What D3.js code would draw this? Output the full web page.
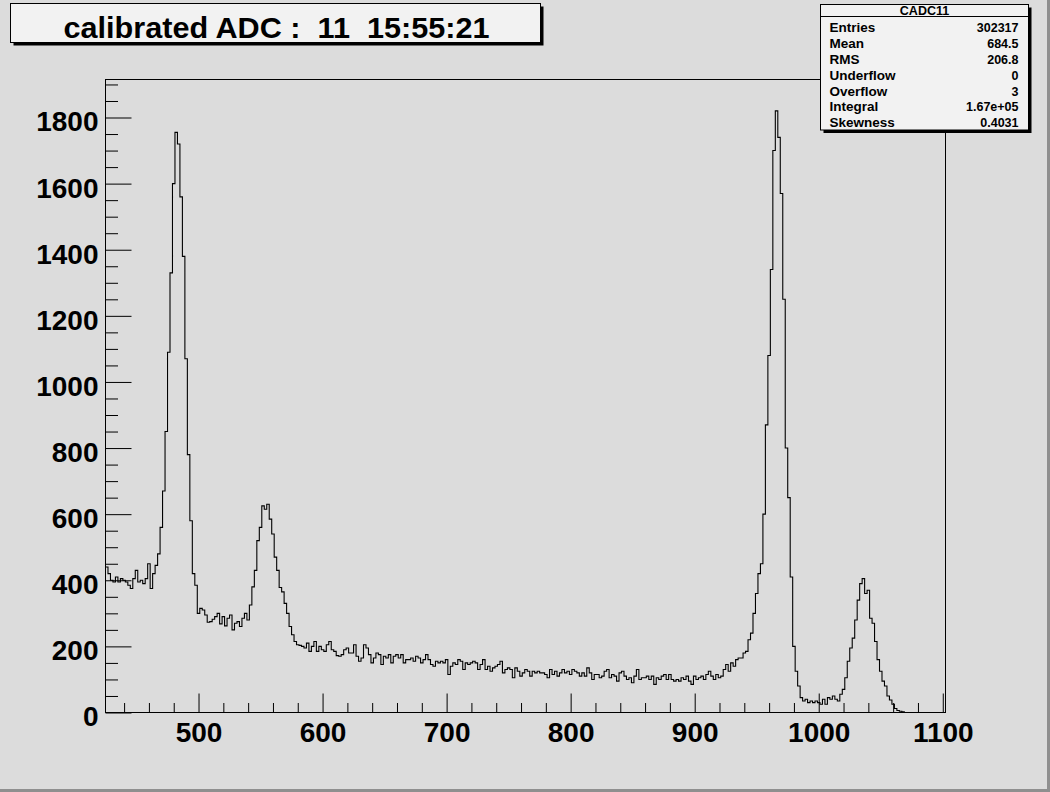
<!DOCTYPE html>
<html>
<head>
<meta charset="utf-8">
<script src="https://cdn.jsdelivr.net/npm/d3@7"></script>
<style>
  html, body { margin: 0; padding: 0; background: #dcdcdc; }
  svg { display: block; }
  text { font-family: "Liberation Sans", Arial, Helvetica, sans-serif; font-weight: bold; fill: #000; }
</style>
</head>
<body>
<svg id="chart" width="1050" height="792"></svg>
<script>
// ---------------- data ----------------
const titleText = "calibrated ADC :  11  15:55:21";
const histName = "CADC11";
const statLabels = ["Entries", "Mean", "RMS", "Underflow", "Overflow", "Integral", "Skewness"];
const statValues = ["302317", "684.5", "206.8", "0", "3", "1.67e+05", "0.4031"];

const xTickValues = [500, 600, 700, 800, 900, 1000, 1100];
const yTickValues = [0, 200, 400, 600, 800, 1000, 1200, 1400, 1600, 1800];

// histogram: first bin low edge and bin width (ADC units)
const binLowEdge = 425;
const binWidth = 2;
// bin contents
const counts = [
  440, 420, 400, 395, 410, 395, 405, 400, 395, 385,   // 425-443
  375, 405, 430, 395, 400, 390, 405, 450, 375, 420,   // 445-463
  445, 480, 560, 670, 850, 1090, 1330, 1600, 1755, 1720, // 465-483
  1560, 1380, 1070, 780, 580, 420, 385, 300, 315, 310, // 485-503
  295, 273, 275, 282, 290, 300, 268, 290, 262, 285,    // 505-523
  295, 250, 270, 275, 260, 285, 300, 280, 325, 380,    // 525-543
  430, 520, 560, 625, 615, 630, 585, 540, 470, 430,    // 545-563
  378, 365, 330, 300, 260, 235, 215, 205, 203, 200,    // 565-583
  195, 210, 185, 200, 215, 185, 200, 190, 185, 205,    // 585-603
  215, 190, 185, 172, 170, 175, 190, 195, 180, 180,    // 605-623
  205, 170, 155, 165, 205, 195, 175, 150, 165, 180,    // 625-643
  175, 145, 170, 165, 175, 150, 170, 175, 165, 175,    // 645-663
  150, 160, 160, 165, 155, 170, 165, 150, 160, 175,    // 665-683
  160, 145, 140, 155, 150, 155, 150, 160, 115, 140,    // 685-703
  150, 145, 160, 155, 130, 150, 145, 150, 155, 150,    // 705-723
  130, 145, 160, 130, 140, 125, 135, 140, 145, 155,    // 725-743
  120, 130, 135, 130, 105, 135, 125, 110, 120, 130,    // 745-763
  125, 110, 125, 120, 125, 120, 120, 115, 105, 130,    // 765-783
  115, 125, 110, 120, 130, 120, 125, 115, 130, 125,    // 785-803
  120, 110, 120, 110, 135, 120, 100, 115, 115, 105,    // 805-823
  110, 125, 130, 105, 115, 110, 95, 120, 125, 110,     // 825-843
  100, 105, 90, 110, 130, 100, 105, 105, 110, 100,     // 845-863
  110, 85, 105, 100, 110, 115, 100, 115, 100, 95,      // 865-883
  100, 95, 105, 100, 110, 95, 85, 110, 100, 105,       // 885-903
  110, 100, 115, 125, 110, 100, 115, 105, 110, 130,    // 905-923
  145, 125, 150, 140, 160, 165, 165, 180, 185, 220,    // 925-943
  240, 300, 360, 420, 450, 600, 870, 1080, 1340, 1700, // 945-963
  1820, 1740, 1570, 1250, 800, 650, 410, 200, 125, 80, // 965-983
  45, 35, 40, 30, 35, 30, 35, 30, 25, 40,              // 985-1003
  25, 45, 40, 50, 40, 35, 55, 70, 105, 155,            // 1005-1023
  195, 225, 280, 340, 390, 405, 360, 370, 285, 270,    // 1025-1043
  215, 160, 125, 95, 80, 50, 38, 25, 12, 6,            // 1045-1063
  4, 2, 0, 0, 0, 0, 0, 0, 0, 0,                        // 1065-1083
  0, 0, 0, 0, 0, 0, 0, 0, 0                            // 1085-1101
];

// ---------------- layout ----------------
const W = 1050, H = 792;
const frame = { left: 105.5, top: 79.5, right: 945.5, bottom: 712.5 };
const xDomain = [425, 1102.2];
const yDomain = [0, 1915];

const svg = d3.select("#chart");

// canvas background and bevel
svg.append("rect").attr("x", 0).attr("y", 0).attr("width", W).attr("height", H).attr("fill", "#dcdcdc");
svg.append("rect").attr("x", W - 3).attr("y", 0).attr("width", 3).attr("height", H).attr("fill", "#8f8f8f");
svg.append("rect").attr("x", 0).attr("y", H - 3).attr("width", W).attr("height", 3).attr("fill", "#8f8f8f");

const x = d3.scaleLinear().domain(xDomain).range([frame.left, frame.right]);
const y = d3.scaleLinear().domain(yDomain).range([frame.bottom, frame.top]);

// clip for histogram
svg.append("clipPath").attr("id", "frameClip")
  .append("rect")
  .attr("x", frame.left).attr("y", frame.top - 2)
  .attr("width", frame.right - frame.left).attr("height", frame.bottom - frame.top + 2);

// histogram step outline
const bins = counts.map((c, i) => ({ x0: binLowEdge + i * binWidth, x1: binLowEdge + (i + 1) * binWidth, c }));
let p = d3.path();
bins.forEach((b, i) => {
  const yy = y(b.c);
  if (i === 0) p.moveTo(x(b.x0), yy);
  else p.lineTo(x(b.x0), yy);
  p.lineTo(x(b.x1), yy);
});
svg.append("path")
  .attr("d", p.toString())
  .attr("fill", "none")
  .attr("stroke", "#000")
  .attr("stroke-width", 1.1)
  .attr("clip-path", "url(#frameClip)");

// axes
const xMinor = d3.range(440, 1101, 20).filter(v => v % 100 !== 0);
const yMinor = d3.range(50, 1901, 50).filter(v => v % 200 !== 0);

const gx = svg.append("g").attr("transform", `translate(0,${frame.bottom})`);
gx.call(d3.axisBottom(x).tickValues(xMinor).tickSize(-9.5).tickFormat(""));
gx.call(g => g.select(".domain").remove());
const gx2 = svg.append("g").attr("transform", `translate(0,${frame.bottom})`);
gx2.call(d3.axisBottom(x).tickValues(xTickValues).tickSize(-19).tickSizeOuter(0).tickPadding(9.5).tickFormat(d3.format("d")));
gx2.call(g => g.select(".domain").remove());

const gy = svg.append("g").attr("transform", `translate(${frame.left},0)`);
gy.call(d3.axisLeft(y).tickValues(yMinor).tickSize(-12.5).tickFormat(""));
gy.call(g => g.select(".domain").remove());
const gy2 = svg.append("g").attr("transform", `translate(${frame.left},0)`);
gy2.call(d3.axisLeft(y).tickValues(yTickValues).tickSize(-26).tickSizeOuter(0).tickPadding(7).tickFormat(d3.format("d")));
gy2.call(g => g.select(".domain").remove());
gy2.selectAll(".tick text").attr("dy", "0.48em");

svg.selectAll(".tick line").attr("stroke", "#000").attr("stroke-width", 1);
svg.selectAll(".tick text")
  .attr("font-family", "'Liberation Sans', Arial, Helvetica, sans-serif")
  .attr("font-weight", "bold")
  .attr("font-size", 28)
  .attr("fill", "#000");

// frame
svg.append("rect")
  .attr("x", frame.left).attr("y", frame.top)
  .attr("width", frame.right - frame.left).attr("height", frame.bottom - frame.top)
  .attr("fill", "none").attr("stroke", "#000").attr("stroke-width", 1);

// title box
const tb = { x: 10.5, y: 3.5, w: 530, h: 39 };
svg.append("rect").attr("x", tb.x + 3).attr("y", tb.y + 3).attr("width", tb.w).attr("height", tb.h).attr("fill", "#000");
svg.append("rect").attr("x", tb.x).attr("y", tb.y).attr("width", tb.w).attr("height", tb.h)
  .attr("fill", "#f2f2f2").attr("stroke", "#000").attr("stroke-width", 1);
svg.append("text")
  .attr("x", tb.x + tb.w / 2 + 1).attr("y", 38)
  .attr("text-anchor", "middle")
  .attr("font-size", 30)
  .attr("textLength", 426)
  .attr("lengthAdjust", "spacingAndGlyphs")
  .style("white-space", "pre")
  .text(titleText);

// stats box
const sb = { x: 820.5, y: 4.5, w: 208, h: 125.5 };
svg.append("rect").attr("x", sb.x + 3).attr("y", sb.y + 3).attr("width", sb.w).attr("height", sb.h).attr("fill", "#000");
svg.append("rect").attr("x", sb.x).attr("y", sb.y).attr("width", sb.w).attr("height", sb.h)
  .attr("fill", "#f2f2f2").attr("stroke", "#000").attr("stroke-width", 1);
svg.append("line").attr("x1", sb.x).attr("x2", sb.x + sb.w).attr("y1", 16.5).attr("y2", 16.5)
  .attr("stroke", "#000").attr("stroke-width", 1);
svg.append("text").attr("x", sb.x + sb.w / 2).attr("y", 15)
  .attr("text-anchor", "middle").attr("font-size", 12.5).text(histName);
statLabels.forEach((lab, i) => {
  const by = 32.3 + i * 15.8;
  svg.append("text").attr("x", 829.5).attr("y", by).attr("font-size", 13.5).text(lab);
  svg.append("text").attr("x", 1018.5).attr("y", by).attr("text-anchor", "end").attr("font-size", 12.5).text(statValues[i]);
});
</script>
</body>
</html>
